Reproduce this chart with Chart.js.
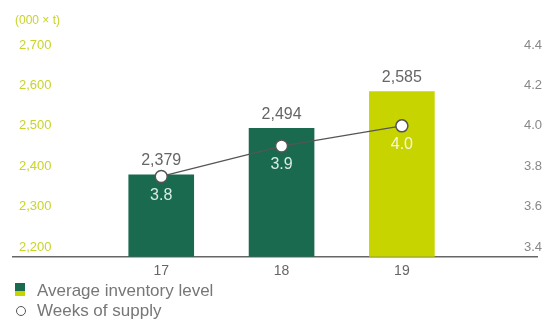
<!DOCTYPE html>
<html><head><meta charset="utf-8">
<script src="https://cdn.jsdelivr.net/npm/chart.js@4.4.1/dist/chart.umd.min.js"></script>
<style>
html,body{margin:0;padding:0;background:#fff;}
#wrap{position:relative;width:547px;height:320px;overflow:hidden;font-family:'Liberation Sans',Arial,sans-serif;}
#unit{position:absolute;left:15px;top:12px;font-size:12px;line-height:16px;color:#c8d42a;white-space:nowrap;}
.leg{position:absolute;left:37px;font-size:17px;line-height:20px;color:#777;white-space:nowrap;}
#sq{position:absolute;left:15px;top:283px;width:10px;height:13px;background:linear-gradient(#1a6a4f 0 60%,#c8d400 60% 100%);}
#ci{position:absolute;left:16px;top:306px;width:8px;height:8px;border:1.5px solid #555;border-radius:50%;background:#fff;}
</style></head>
<body>
<div id="wrap">
<canvas id="c" width="547" height="320"></canvas>
<div id="unit">(000 × t)</div>
<div id="sq"></div><div class="leg" style="top:281px">Average inventory level</div>
<div id="ci"></div><div class="leg" style="top:301px">Weeks of supply</div>
</div>
<script>
const years = [17, 18, 19];
const inventory = [2379, 2494, 2585];
const weeksOfSupply = [3.75, 3.9, 4.0];
const leftTicks = [2200, 2300, 2400, 2500, 2600, 2700];
const rightTicks = [3.4, 3.6, 3.8, 4.0, 4.2, 4.4];

const GREEN = '#1a6a4f', LIME = '#c8d400';
const FONT = "'Liberation Sans', Arial, sans-serif";

const labelPlugin = {
  id: 'valueLabels',
  afterDatasetsDraw(chart) {
    const ctx = chart.ctx;
    ctx.save();
    ctx.textAlign = 'center';
    ctx.textBaseline = 'middle';
    ctx.font = '16px ' + FONT;
    const bars = chart.getDatasetMeta(0).data;
    bars.forEach((b, i) => {
      ctx.fillStyle = '#666';
      ctx.fillText(inventory[i].toLocaleString('en-US'), b.x, b.y - 14);
    });
    const pts = chart.getDatasetMeta(1).data;
    pts.forEach((p, i) => {
      ctx.fillStyle = i === 2 ? '#f6f8dc' : '#d6ede4';
      ctx.fillText(weeksOfSupply[i].toFixed(1), p.x, p.y + 19);
    });
    ctx.restore();
  }
};

new Chart(document.getElementById('c'), {
  type: 'bar',
  data: {
    datasets: [
      {
        type: 'bar',
        data: years.map((y, i) => ({x: y, y: inventory[i]})),
        backgroundColor: ctx => ctx.dataIndex === 2 ? LIME : GREEN,
        barThickness: 65,
        yAxisID: 'y',
        order: 1
      },
      {
        type: 'line',
        data: years.map((y, i) => ({x: y, y: weeksOfSupply[i]})),
        borderColor: '#555',
        borderWidth: 1.2,
        pointRadius: 6,
        pointBackgroundColor: '#fff',
        pointBorderColor: '#555',
        pointBorderWidth: 1.5,
        yAxisID: 'y1',
        order: 0
      }
    ]
  },
  options: {
    responsive: false,
    animation: false,
    layout: {padding: {left: 1, right: 0, top: 30, bottom: 34.5}},
    plugins: {legend: {display: false}, tooltip: {enabled: false}},
    scales: {
      x: {
        type: 'linear', min: 15.768, max: 20.123, offset: false,
        grid: {display: false, drawTicks: false},
        border: {display: true, color: '#666', width: 1.5},
        afterBuildTicks: s => { s.ticks = years.map(v => ({value: v})); },
        ticks: {padding: 6, color: '#666', font: {size: 14, family: FONT}, callback: v => String(v)}
      },
      y: {
        type: 'linear', position: 'left', min: 2176.5, max: 2737,
        grid: {display: false, drawTicks: false},
        border: {display: false},
        afterBuildTicks: s => { s.ticks = leftTicks.map(v => ({value: v})); },
        ticks: {mirror: true, padding: 6, color: '#c8d42a', font: {size: 13, family: FONT},
          callback: v => v.toLocaleString('en-US')}
      },
      y1: {
        type: 'linear', position: 'right', min: 3.353, max: 4.474,
        grid: {display: false, drawTicks: false},
        border: {display: false},
        afterBuildTicks: s => { s.ticks = rightTicks.map(v => ({value: v})); },
        ticks: {mirror: true, padding: 5, color: '#888', font: {size: 13, family: FONT},
          callback: v => v.toFixed(1)}
      }
    }
  },
  plugins: [labelPlugin]
});
</script>
</body></html>
